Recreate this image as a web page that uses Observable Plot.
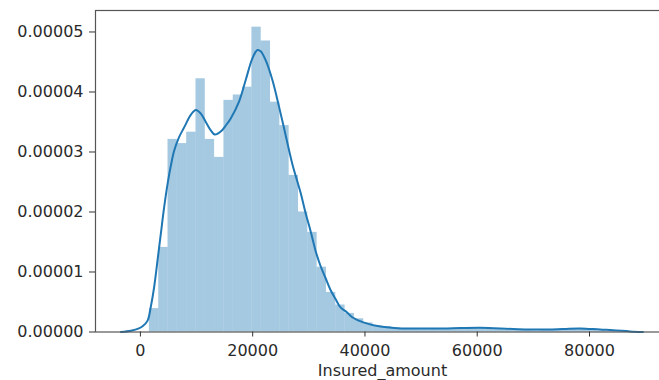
<!DOCTYPE html>
<html>
<head>
<meta charset="utf-8">
<script src="https://cdn.jsdelivr.net/npm/d3@7"></script>
<script src="https://cdn.jsdelivr.net/npm/@observablehq/plot@0.6"></script>
<style>
  html, body { margin: 0; padding: 0; background: #fff; }
  #chart { width: 659px; height: 380px; overflow: hidden; }
  #chart svg { max-width: none !important; }
</style>
</head>
<body>
<div id="chart"></div>
<script>
// Histogram bin left edges (Insured_amount) and bin right edges
const binLeft = [1600, 3260, 4920, 6580, 8240, 9900, 11560, 13220, 14880, 16540,
  18200, 19860, 21520, 23180, 24840, 26500, 28160, 29820, 31480, 33140,
  34800, 36460, 38120, 39780, 41440, 43100, 44760, 46420, 48080, 49740,
  51400, 53060, 54720, 56380, 58040, 59700, 61360, 63020, 64680, 66340,
  68000, 69660, 71320, 72980, 74640, 76300, 77960, 79620, 81280, 82940];
const binRight = [3260, 4920, 6580, 8240, 9900, 11560, 13220, 14880, 16540, 18200,
  19860, 21520, 23180, 24840, 26500, 28160, 29820, 31480, 33140, 34800,
  36460, 38120, 39780, 41440, 43100, 44760, 46420, 48080, 49740, 51400,
  53060, 54720, 56380, 58040, 59700, 61360, 63020, 64680, 66340, 68000,
  69660, 71320, 72980, 74640, 76300, 77960, 79620, 81280, 82940, 84600];
// Histogram densities
const binDensity = [0.0000039, 0.0000141, 0.0000321, 0.0000314, 0.0000333, 0.0000422, 0.0000321, 0.0000291, 0.0000386, 0.0000395,
  0.0000408, 0.0000508, 0.0000485, 0.0000383, 0.0000344, 0.0000261, 0.0000200, 0.0000166, 0.0000108, 0.0000066,
  0.0000045, 0.0000031, 0.0000022, 0.0000015, 0.0000010, 0.0000009, 0.0000007, 0.0000006, 0.0000005, 0.0000004,
  0.0000005, 0.0000004, 0.0000005, 0.0000006, 0.0000007, 0.0000006, 0.0000005, 0.0000004, 0.0000003, 0.0000003,
  0.0000003, 0.0000002, 0.0000003, 0.0000004, 0.0000005, 0.0000006, 0.0000006, 0.0000003, 0.0000002, 0.0000001];

// KDE curve points
const kdeX = [-3470, -1690, -270, 440, 1280, 1870, 2450, 3060, 3640, 4230,
  4840, 5420, 6010, 6850, 7790, 8980, 9870, 10760, 11650, 12540,
  13250, 14310, 15200, 16090, 17570, 18760, 19950, 20840, 21420, 22310,
  23510, 24680, 25870, 27060, 28540, 29430, 30320, 31210, 32090, 32980,
  33870, 34760, 35650, 36770, 37660, 39710, 42760, 46320, 49870, 54670,
  60540, 66410, 71210, 75300, 78320, 81880, 84190, 87210, 89520];
const kdeY = [0, 0.0000002, 0.0000006, 0.0000010, 0.0000019, 0.0000043, 0.0000075, 0.0000120, 0.0000164, 0.0000208,
  0.0000247, 0.0000277, 0.0000302, 0.0000324, 0.0000341, 0.0000362, 0.0000370, 0.0000364, 0.0000350, 0.0000336,
  0.0000329, 0.0000334, 0.0000344, 0.0000356, 0.0000384, 0.0000420, 0.0000456, 0.0000470, 0.0000468, 0.0000453,
  0.0000420, 0.0000376, 0.0000328, 0.0000280, 0.0000232, 0.0000198, 0.0000168, 0.0000135, 0.0000110, 0.0000090,
  0.0000070, 0.0000055, 0.0000041, 0.0000033, 0.0000025, 0.0000016, 0.0000009, 0.0000006, 0.0000006, 0.0000006,
  0.0000007, 0.0000005, 0.0000004, 0.0000005, 0.0000006, 0.0000004, 0.0000003, 0.0000001, 0];

const xTicks = [0, 20000, 40000, 60000, 80000];
const yTicks = [0, 0.00001, 0.00002, 0.00003, 0.00004, 0.00005];
const xLabel = "Insured_amount";

const bins = binLeft.map((x1, i) => ({x1, x2: binRight[i], density: binDensity[i]}));
const kde = kdeX.map((x, i) => ({x, y: kdeY[i]}));

const chart = Plot.plot({
  width: 669,
  height: 380,
  marginLeft: 95,
  marginRight: 0,
  marginTop: 10,
  marginBottom: 48.5,
  style: {fontFamily: "DejaVu Sans", fontSize: "16px", color: "#2a2a2a", background: "white"},
  x: {domain: [-8000, 94250]},
  y: {domain: [0, 0.00005358]},
  marks: [
    Plot.rectY(bins, {x1: "x1", x2: "x2", y: "density", fill: "#1f77b4", fillOpacity: 0.4}),
    Plot.line(kde, {x: "x", y: "y", stroke: "#1f77b4", strokeWidth: 2, curve: "catmull-rom"}),
    Plot.frame({stroke: "#555", strokeWidth: 1.2}),
    Plot.axisY({ticks: yTicks, tickFormat: d3.format(".5f"), tickSize: 6, tickPadding: 6, label: null, stroke: "#333"}),
    Plot.axisX({ticks: xTicks, tickFormat: d3.format("d"), tickSize: 5, tickPadding: 8, label: xLabel, labelAnchor: "center", labelArrow: "none", labelOffset: 44, stroke: "#333"})
  ]
});
document.getElementById("chart").append(chart);
</script>
</body>
</html>
